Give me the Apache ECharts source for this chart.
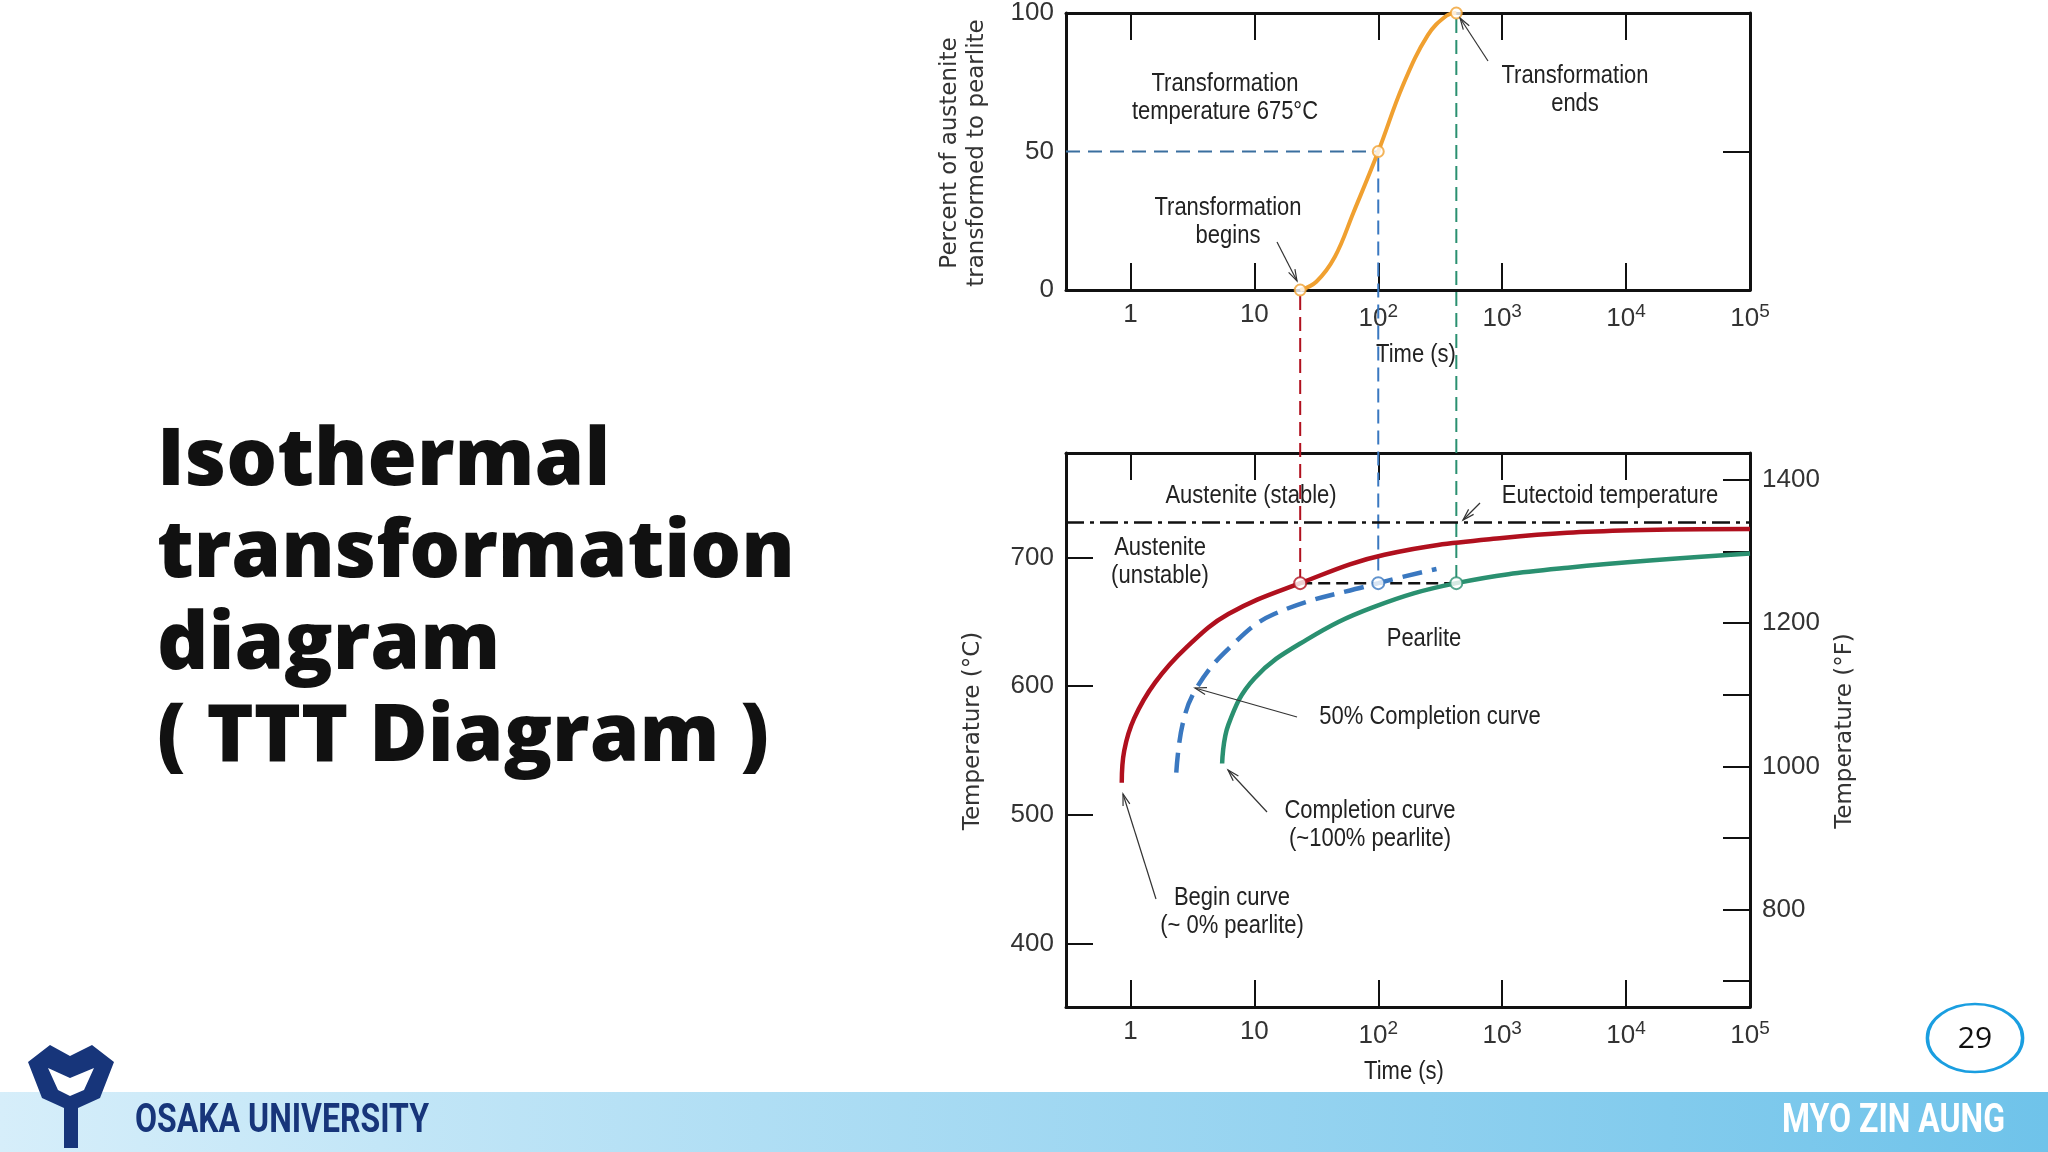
<!DOCTYPE html>
<html><head><meta charset="utf-8">
<script src="https://cdn.jsdelivr.net/npm/echarts@6/dist/echarts.min.js"></script>
<style>html,body{margin:0;padding:0;background:#fff}#main{width:2048px;height:1152px}</style>
</head><body><div id="main"></div>
<script>
// x values are log10(time in s)
var decades = [0, 1, 2, 3, 4, 5];
var decadeLabels = ['1', '10', '10{s|2}', '10{s|3}', '10{s|4}', '10{s|5}'];
var pctTicks = [0, 50, 100];
var tempCTicks = [400, 500, 600, 700];
var tempFTicks = [700, 800, 900, 1000, 1100, 1200, 1300, 1400];
var tempFLabels = [800, 1000, 1200, 1400];

var sCurve = [[1.37, 0], [1.5, 3], [1.65, 12], [1.8, 28], [2.0, 50], [2.2, 74], [2.4, 92], [2.55, 99], [2.63, 100]];
var beginCurve = [[-0.07, 525], [-0.05, 550], [0.03, 575], [0.2, 603], [0.45, 630], [0.79, 656], [1.37, 680], [2.05, 702], [3.0, 715], [4.05, 721], [5.0, 722]];
var halfCurve = [[0.37, 533], [0.42, 570], [0.53, 598], [0.79, 629], [1.16, 656], [2.0, 680], [2.47, 691]];
var endCurve = [[0.74, 540], [0.79, 570], [1.0, 606], [1.42, 636], [1.95, 661], [2.63, 680], [3.53, 692], [5.0, 703]];
var isoTemp = 680;
var eutectoid = 727;
var marks = [1.37, 2.0, 2.63];

var font = "'Liberation Sans', sans-serif";
var myChart = echarts.init(document.getElementById('main'));
var c2f = function (c) { return c * 1.8 + 32; };
var lineCols = ['#b0101e', '#3a78c0', '#2a9070'];

function xAx(grid, pos, labels) {
    return {
        type: 'value', gridIndex: grid, position: pos, min: -0.52, max: 5,
        axisLine: {show: true, onZero: false, lineStyle: {color: '#111', width: 3}},
        axisTick: {show: true, inside: true, length: 27, customValues: decades, lineStyle: {color: '#111', width: 2}},
        axisLabel: {show: labels, customValues: decades, margin: 12, color: '#333', fontSize: 26, fontFamily: font,
            formatter: function (v) { return decadeLabels[decades.indexOf(Math.round(v))]; },
            rich: {s: {fontSize: 19, verticalAlign: 'top', padding: [0, 0, 14, 0], color: '#333', fontFamily: font}}},
        splitLine: {show: false}
    };
}
function yAx(grid, pos, min, max, ticks, labels) {
    return {
        type: 'value', gridIndex: grid, position: pos, min: min, max: max,
        axisLine: {show: true, onZero: false, lineStyle: {color: '#111', width: 3}},
        axisTick: {show: ticks.length > 0, inside: true, length: 27, customValues: ticks, lineStyle: {color: '#111', width: 2}},
        axisLabel: {show: labels.length > 0, customValues: labels, color: '#333', fontSize: 26, fontFamily: font, margin: 12,
            formatter: function (v) { return String(Math.round(v)); }},
        splitLine: {show: false}
    };
}

var option = {
    animation: false,
    grid: [
        {left: 1066, top: 13, width: 684, height: 277},
        {left: 1066, top: 453, width: 684, height: 554}
    ],
    xAxis: [xAx(0, 'bottom', true), xAx(0, 'top', false), xAx(1, 'bottom', true), xAx(1, 'top', false)],
    yAxis: [
        yAx(0, 'left', 0, 100, [], pctTicks),
        yAx(0, 'right', 0, 100, [50], []),
        yAx(1, 'left', 351, 781, tempCTicks, tempCTicks),
        yAx(1, 'right', c2f(351), c2f(781), tempFTicks, tempFLabels)
    ],
    series: [
        {type: 'line', xAxisIndex: 0, yAxisIndex: 0, data: sCurve, smooth: 0.4, symbol: 'none',
            lineStyle: {color: '#f0a030', width: 4}, z: 5},
        {type: 'line', xAxisIndex: 0, yAxisIndex: 0, data: [[-0.52, 50], [2.0, 50]], symbol: 'none',
            lineStyle: {color: '#3a6f9f', width: 2, type: [14, 8]}},
        {type: 'scatter', xAxisIndex: 0, yAxisIndex: 0, data: [[1.37, 0], [2.0, 50], [2.63, 100]], symbolSize: 11,
            itemStyle: {color: '#fff', borderColor: '#f0a030', borderWidth: 2}, z: 6},
        {type: 'line', xAxisIndex: 2, yAxisIndex: 2, data: [[-0.52, eutectoid], [5, eutectoid]], symbol: 'none',
            lineStyle: {color: '#111', width: 2.5, type: [18, 6, 4, 6]}},
        {type: 'line', xAxisIndex: 2, yAxisIndex: 2, data: beginCurve, smooth: 0.4, symbol: 'none',
            lineStyle: {color: lineCols[0], width: 4.5}, z: 4},
        {type: 'line', xAxisIndex: 2, yAxisIndex: 2, data: halfCurve, smooth: 0.4, symbol: 'none',
            lineStyle: {color: lineCols[1], width: 4.5, type: [20, 10]}, z: 4},
        {type: 'line', xAxisIndex: 2, yAxisIndex: 2, data: endCurve, smooth: 0.4, symbol: 'none',
            lineStyle: {color: lineCols[2], width: 4.5}, z: 4},
        {type: 'line', xAxisIndex: 2, yAxisIndex: 2, data: [[marks[0], isoTemp], [marks[2], isoTemp]], symbol: 'none',
            lineStyle: {color: '#111', width: 2.5, type: [12, 6]}, z: 3},
        {type: 'scatter', xAxisIndex: 2, yAxisIndex: 2, symbolSize: 12, z: 6,
            data: marks.map(function (m, i) {
                return {value: [m, isoTemp], itemStyle: {color: '#fff', borderWidth: 2, borderColor: lineCols[i]}};
            })}
    ]
};
myChart.setOption(option);

// connector lines between the two charts, placed through the axes
var topY = [0, 50, 100];
var gfx = [];
marks.forEach(function (m, i) {
    var p1 = myChart.convertToPixel({xAxisIndex: 0, yAxisIndex: 0}, [m, topY[i]]);
    var p2 = myChart.convertToPixel({xAxisIndex: 2, yAxisIndex: 2}, [m, isoTemp]);
    gfx.push({type: 'line', shape: {x1: p1[0], y1: p1[1] + 6, x2: p2[0], y2: p2[1] - 6}, z: 1,
        style: {stroke: lineCols[i], lineWidth: 2, lineDash: [14, 7]}});
});

function txt(x, y, s) {
    return {type: 'text', x: x, y: y, z: 10, scaleX: 0.88,
        style: {text: s, font: '25px ' + font, fill: '#222', align: 'center', verticalAlign: 'middle', lineHeight: 28}};
}
function arrow(x1, y1, x2, y2) {
    var a = Math.atan2(y2 - y1, x2 - x1), L = 12;
    return [
        {type: 'line', shape: {x1: x1, y1: y1, x2: x2, y2: y2}, style: {stroke: '#333', lineWidth: 1.2}, z: 10},
        {type: 'polyline', shape: {points: [[x2 - L * Math.cos(a - 0.3), y2 - L * Math.sin(a - 0.3)], [x2, y2], [x2 - L * Math.cos(a + 0.3), y2 - L * Math.sin(a + 0.3)]]},
            style: {stroke: '#333', lineWidth: 1.2, fill: null}, z: 10}
    ];
}
function vtxt(x, y, s) {
    return {type: 'text', x: x, y: y, rotation: Math.PI / 2, z: 10,
        style: {text: s, font: '23px DejaVu Sans', fill: '#333', align: 'center', verticalAlign: 'middle', lineHeight: 27}};
}
gfx = gfx.concat([
    txt(1225, 98, 'Transformation\ntemperature 675°C'),
    txt(1228, 222, 'Transformation\nbegins'),
    txt(1575, 90, 'Transformation\nends'),
    txt(1416, 355, 'Time (s)'),
    txt(1404, 1072, 'Time (s)'),
    txt(1251, 496, 'Austenite (stable)'),
    txt(1610, 496, 'Eutectoid temperature'),
    txt(1160, 562, 'Austenite\n(unstable)'),
    txt(1424, 639, 'Pearlite'),
    txt(1430, 717, '50% Completion curve'),
    txt(1370, 825, 'Completion curve\n(~100% pearlite)'),
    txt(1232, 912, 'Begin curve\n(~ 0% pearlite)'),
    vtxt(964, 153, 'Percent of austenite\ntransformed to pearlite'),
    vtxt(973, 731, 'Temperature (°C)'),
    vtxt(1845, 731, 'Temperature (°F)')
]);
gfx = gfx.concat(arrow(1277, 242, 1297, 281), arrow(1488, 61, 1460, 18), arrow(1480, 503, 1463, 520),
    arrow(1297, 717, 1195, 688), arrow(1267, 812, 1228, 770), arrow(1156, 899, 1123, 794));

// slide decoration
gfx = gfx.concat([
    {type: 'text', x: 157, y: 600, z: 10,
        style: {text: 'Isothermal\ntransformation\ndiagram\n( TTT Diagram )', font: '800 80px "Open Sans"', fill: '#111', lineHeight: 92,
            verticalAlign: 'middle', shadowColor: 'rgba(0,0,0,0.35)', shadowOffsetX: 3, shadowOffsetY: 3, shadowBlur: 4}},
    {type: 'rect', shape: {x: 0, y: 1092, width: 2048, height: 60}, z: 0,
        style: {fill: new echarts.graphic.LinearGradient(0, 0, 1, 0, [{offset: 0, color: '#d6eefa'}, {offset: 1, color: '#6fc3ea'}])}},
    {type: 'text', x: 135, y: 1122, z: 10, scaleX: 0.8,
        style: {text: 'OSAKA UNIVERSITY', font: 'bold 40px Roboto', fill: '#17357a', verticalAlign: 'middle'}},
    {type: 'text', x: 2005, y: 1122, z: 10, scaleX: 0.8,
        style: {text: 'MYO ZIN AUNG', font: 'bold 40px Roboto', fill: '#fff', align: 'right', verticalAlign: 'middle'}},
    {type: 'polygon', z: 10, shape: {points: [[28, 1062], [50, 1045], [70, 1056], [92, 1045], [114, 1062], [100, 1098], [78, 1108], [78, 1148], [64, 1148], [64, 1108], [42, 1098]]},
        style: {fill: '#17357a'}},
    {type: 'polygon', z: 11, shape: {points: [[48, 1068], [70, 1078], [94, 1068], [84, 1090], [70, 1096], [58, 1090]]},
        style: {fill: '#fff'}},
    {type: 'circle', x: 1975, y: 1038, scaleX: 1.4, shape: {cx: 0, cy: 0, r: 34}, z: 10, style: {fill: '#fff', stroke: '#1a9ee0', lineWidth: 2.5}},
    {type: 'text', x: 1975, y: 1039, z: 11, style: {text: '29', font: '30px "Open Sans"', fill: '#111', align: 'center', verticalAlign: 'middle'}}
]);
myChart.setOption({graphic: gfx});
</script></body></html>
